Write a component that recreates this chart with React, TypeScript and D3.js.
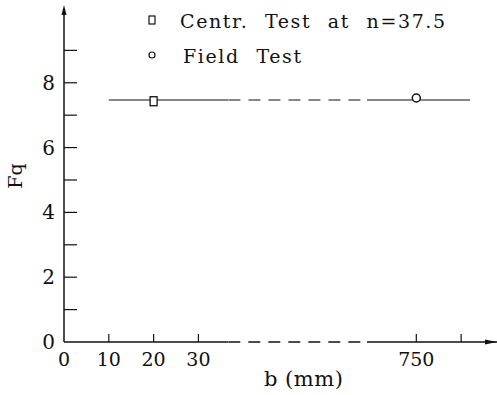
import { useEffect, useRef } from "react";
import * as d3 from "d3";

// data
const centrB = [20];
const centrFq = [7.43];
const fieldB = [750];
const fieldFq = [7.53];
const fitLevel = 7.47;
const fitRange = [10, 810];
const legendLabels = ["Centr. Test at n=37.5", "Field Test"];
const xTickLabels = [0, 10, 20, 30];
const xTickRight = [750, 800];
const yTickLabels = [0, 2, 4, 6, 8];
const yMinorTicks = [1, 3, 5, 7, 9];

// broken axis: left part 0..36.6, gap, right part 695..840
const breakLo = 36.6;
const breakHi = 695;

export default function App() {
  const svgRef = useRef<SVGSVGElement>(null);

  useEffect(() => {
    if (!svgRef.current) return;
    const svg = d3.select(svgRef.current);
    svg.selectAll("*").remove();

    const ink = "#111";
    const font = "'DejaVu Serif', serif";

    const x = d3
      .scaleLinear()
      .domain([0, breakLo, breakHi, 840])
      .range([64, 228, 367, 497]);
    const y = d3.scaleLinear().domain([0, 10.4]).range([342, 5]);

    // y axis with arrow
    svg
      .append("line")
      .attr("x1", x(0))
      .attr("x2", x(0))
      .attr("y1", y(0))
      .attr("y2", y(10.4) + 6)
      .attr("stroke", ink)
      .attr("stroke-width", 1.5);
    svg
      .append("path")
      .attr("d", `M${x(0) - 2.5},${y(10.4) + 10} L${x(0)},${y(10.4)} L${x(0) + 2.5},${y(10.4) + 10} Z`)
      .attr("fill", ink);

    // y ticks
    svg
      .append("g")
      .selectAll("line")
      .data([...yTickLabels, ...yMinorTicks].filter((d) => d > 0))
      .enter()
      .append("line")
      .attr("x1", x(0))
      .attr("x2", x(0) + 13)
      .attr("y1", (d) => y(d))
      .attr("y2", (d) => y(d))
      .attr("stroke", ink)
      .attr("stroke-width", 1.2);

    svg
      .append("g")
      .selectAll("text")
      .data(yTickLabels)
      .enter()
      .append("text")
      .attr("x", 55)
      .attr("y", (d) => y(d) + 7)
      .attr("text-anchor", "end")
      .attr("font-family", font)
      .attr("font-size", 20)
      .attr("fill", ink)
      .text((d) => d);

    svg
      .append("text")
      .attr("transform", `translate(22,176) rotate(-90)`)
      .attr("text-anchor", "middle")
      .attr("font-family", font)
      .attr("font-size", 19)
      .attr("fill", ink)
      .text("Fq");

    // x axis: solid, dashed across the break, solid with arrow
    const axisSeg = (a: number, b: number, dashed: boolean, yy: number, w: number) =>
      svg
        .append("line")
        .attr("x1", x(a))
        .attr("x2", x(b))
        .attr("y1", yy)
        .attr("y2", yy)
        .attr("stroke", ink)
        .attr("stroke-width", w)
        .attr("stroke-dasharray", dashed ? "12,8" : null);

    axisSeg(0, breakLo, false, y(0), 1.5);
    axisSeg(breakLo + 1.5, breakHi, true, y(0), 1.5);
    axisSeg(breakHi, 840, false, y(0), 1.5);
    svg
      .append("path")
      .attr("d", `M${x(840) - 12},${y(0) - 2.5} L${x(840)},${y(0)} L${x(840) - 12},${y(0) + 2.5} Z`)
      .attr("fill", ink);

    svg
      .append("g")
      .selectAll("line")
      .data([...xTickLabels.filter((d) => d > 0), ...xTickRight])
      .enter()
      .append("line")
      .attr("x1", (d) => x(d))
      .attr("x2", (d) => x(d))
      .attr("y1", y(0))
      .attr("y2", y(0) - 8)
      .attr("stroke", ink)
      .attr("stroke-width", 1.2);

    svg
      .append("g")
      .selectAll("text")
      .data([...xTickLabels, xTickRight[0]])
      .enter()
      .append("text")
      .attr("x", (d) => x(d))
      .attr("y", 366)
      .attr("text-anchor", "middle")
      .attr("font-family", font)
      .attr("font-size", 19)
      .attr("fill", ink)
      .text((d) => d);

    svg
      .append("text")
      .attr("x", 264)
      .attr("y", 386)
      .attr("font-family", font)
      .attr("font-size", 21)
      .attr("letter-spacing", 0.5)
      .attr("fill", ink)
      .text("b (mm)");

    // fitted level line
    const fitSeg = (a: number, b: number, dashed: boolean) =>
      svg
        .append("line")
        .attr("x1", x(a))
        .attr("x2", x(b))
        .attr("y1", y(fitLevel))
        .attr("y2", y(fitLevel))
        .attr("stroke", ink)
        .attr("stroke-width", 1.1)
        .attr("stroke-dasharray", dashed ? "12,8" : null);
    fitSeg(fitRange[0], breakLo + 0.5, false);
    fitSeg(breakLo + 2, breakHi, true);
    fitSeg(breakHi, fitRange[1], false);

    // markers
    svg
      .append("g")
      .selectAll("rect")
      .data(centrB.map((b, i) => ({ b, v: centrFq[i] })))
      .enter()
      .append("rect")
      .attr("x", (d) => x(d.b) - 3.5)
      .attr("y", (d) => y(d.v) - 4.5)
      .attr("width", 7)
      .attr("height", 9)
      .attr("fill", "white")
      .attr("stroke", ink)
      .attr("stroke-width", 1.3);

    svg
      .append("g")
      .selectAll("circle")
      .data(fieldB.map((b, i) => ({ b, v: fieldFq[i] })))
      .enter()
      .append("circle")
      .attr("cx", (d) => x(d.b))
      .attr("cy", (d) => y(d.v))
      .attr("r", 4)
      .attr("fill", "white")
      .attr("stroke", ink)
      .attr("stroke-width", 1.5);

    // legend
    svg
      .append("rect")
      .attr("x", 149)
      .attr("y", 16)
      .attr("width", 6)
      .attr("height", 8)
      .attr("fill", "none")
      .attr("stroke", ink)
      .attr("stroke-width", 1.2);
    svg
      .append("circle")
      .attr("cx", 152)
      .attr("cy", 55)
      .attr("r", 3)
      .attr("fill", "none")
      .attr("stroke", ink)
      .attr("stroke-width", 1.2);

    svg
      .append("g")
      .selectAll("text")
      .data(legendLabels)
      .enter()
      .append("text")
      .attr("x", (_d, i) => (i === 0 ? 180 : 183))
      .attr("y", (_d, i) => (i === 0 ? 28 : 63))
      .attr("font-family", font)
      .attr("font-size", 19)
      .attr("letter-spacing", 1.6)
      .attr("word-spacing", 9)
      .attr("fill", ink)
      .text((d) => d);
  }, []);

  return (
    <svg
      ref={svgRef}
      width={497}
      height={395}
      style={{ position: "absolute", left: 0, top: 0, background: "white" }}
    />
  );
}
